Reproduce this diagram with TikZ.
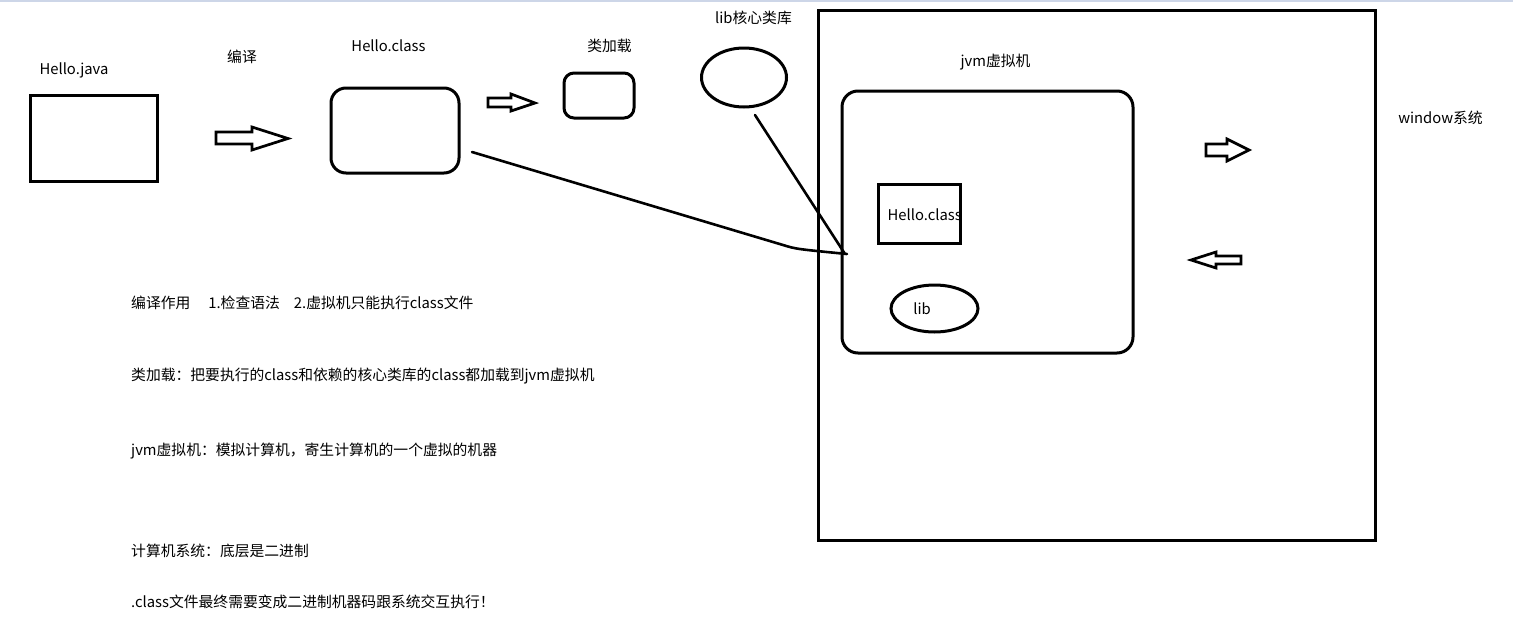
\documentclass[tikz,border=0pt]{standalone}
\usepackage{fontspec}
\setmainfont{Noto Sans CJK SC}
\usetikzlibrary{shapes.geometric}
\begin{document}
\begin{tikzpicture}[x=1pt,y=-1pt,
  shapebox/.style={draw,line width=3pt,inner sep=0pt},
  lbl/.style={inner sep=0pt,font=\fontsize{14.8}{17}\selectfont},
  barrow/.style={draw,line width=2.7pt,line join=miter},
  conn/.style={draw,line width=2.6pt,line cap=round}]
\useasboundingbox (0,0) rectangle (1513,643);
\fill[white] (0,0) rectangle (1513,643);
\draw[line width=1.5pt,color={rgb,255:red,205;green,214;blue,232}] (0,0.75) -- (1513,0.75);
% top row shapes
\node[shapebox,minimum width=127pt,minimum height=86pt] (java) at (93.5,138) {};
\node[shapebox,rounded corners=15pt,minimum width=128pt,minimum height=85pt] (cls) at (395,130.5) {};
\node[shapebox,rounded corners=10pt,minimum width=70pt,minimum height=45pt] (load) at (599,95.5) {};
\node[shapebox,ellipse,minimum width=85pt,minimum height=59pt] (libc) at (744,77.5) {};
% big system box
\node[shapebox,minimum width=557pt,minimum height=530pt] (win) at (1096.5,275) {};
\node[shapebox,rounded corners=16pt,minimum width=291pt,minimum height=262pt] (jvm) at (987.5,222) {};
\node[shapebox,minimum width=82pt,minimum height=59pt] (hc) at (919,213.5) {};
\node[shapebox,ellipse,minimum width=87pt,minimum height=47pt] (libi) at (934.5,308.5) {};
\begin{scope}
\clip (hc.north west) rectangle ([xshift=-1.5pt]hc.south east);
\node[lbl,anchor=west] (hctext) at (887.5,215) {Hello.class};
\end{scope}
\node[lbl] (libtext) at (922,309) {lib};
% labels
\node[lbl] (tjava) at (74,70) {Hello.java};
\node[lbl] (tcomp) at (242,57) {编译};
\node[lbl] (tcls) at (388.5,46) {Hello.class};
\node[lbl] (tload) at (609.5,46) {类加载};
\node[lbl] (tlibc) at (753.5,18) {lib核心类库};
\node[lbl] (tjvm) at (995.5,62) {jvm虚拟机};
\node[lbl] (twin) at (1440.5,118) {window系统};
% block arrows
\draw[barrow] (216,132)--(252,132)--(252,127)--(288,138.5)--(252,150)--(252,144)--(216,144)--cycle;
\draw[barrow] (488,98)--(511,98)--(511,94)--(535,103)--(511,111)--(511,107)--(488,107)--cycle;
\draw[barrow] (1206,144)--(1227,144)--(1227,139)--(1249,150)--(1227,161)--(1227,156)--(1206,156)--cycle;
\draw[barrow] (1241,256)--(1216,256)--(1216,252)--(1191,260)--(1216,268)--(1216,264)--(1241,264)--cycle;
% connectors
\coordinate (a1) at (472,152);
\coordinate (a2) at (847,254);
\coordinate (b1) at (755,115);
\coordinate (b2) at (845,254);
\draw[conn] (a1) -- (783,245) .. controls (796,249) .. (a2);
\draw[conn] (b1) -- (b2);
% notes
\node[lbl,anchor=west] (n1) at (131,303) {编译作用\hspace{18pt}1.检查语法\hspace{14pt}2.虚拟机只能执行class文件};
\node[lbl,anchor=west] (n2) at (131,376) {类加载：把要执行的class和依赖的核心类库的class都加载到jvm虚拟机};
\node[lbl,anchor=west] (n3) at (131,451) {jvm虚拟机：模拟计算机，寄生计算机的一个虚拟的机器};
\node[lbl,anchor=west] (n4) at (131,551) {计算机系统：底层是二进制};
\node[lbl,anchor=west] (n5) at (131,602) {.class文件最终需要变成二进制机器码跟系统交互执行！};
\end{tikzpicture}
\end{document}
